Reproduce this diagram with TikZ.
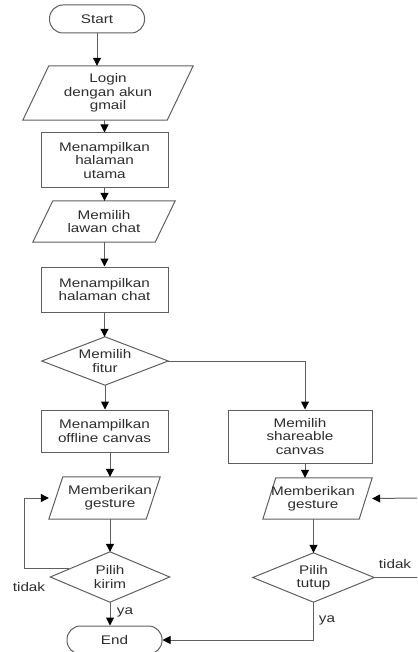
\documentclass[tikz,border=0pt]{standalone}
\usepackage{fontspec}
\setmainfont[FakeStretch=1.22]{Liberation Sans}
\usetikzlibrary{arrows.meta,calc}
\definecolor{linec}{RGB}{95,95,95}
\definecolor{txtc}{RGB}{45,45,45}
\newcommand\parash[2]{\draw[ln] ($(#1.north west)+(#2,0)$) -- (#1.north east) -- ($(#1.south east)-(#2,0)$) -- (#1.south west) -- cycle;}
\newcommand\diash[1]{\draw[ln] (#1.north) -- (#1.east) -- (#1.south) -- (#1.west) -- cycle;}
\begin{document}
\begin{tikzpicture}[x=1pt,y=-1pt,
  base/.style={align=center, inner sep=0pt, text=txtc, font=\fontsize{12.5}{13.3}\selectfont},
  proc/.style={base, draw=linec, line width=1pt, rectangle},
  term/.style={base, draw=linec, line width=1pt, rounded corners=13.5pt, minimum width=95pt, minimum height=28pt},
  shp/.style={base, rectangle},
  ln/.style={draw=linec, line width=1pt},
  flow/.style={draw=linec, line width=1pt, -{Triangle[length=8pt,width=8pt,fill=black,color=black]}},
  lab/.style={base}
]
\useasboundingbox (0,0) rectangle (417,652);

% left column
\node[term] (start) at (97,19) {Start};
\node[shp, minimum width=170pt, minimum height=54pt] (login) at (108,93) {Login\\dengan akun\\gmail};
\parash{login}{26}
\node[proc, minimum width=127pt, minimum height=55pt] (util) at (104.5,160.5) {Menampilkan\\halaman\\utama};
\node[shp, minimum width=142pt, minimum height=41pt] (lawan) at (104,221.5) {Memilih\\lawan chat};
\parash{lawan}{20}
\node[proc, minimum width=127pt, minimum height=45pt] (chat) at (104.5,289.5) {Menampilkan\\halaman chat};
\node[shp, minimum width=126pt, minimum height=48pt] (fitur) at (105,361) {Memilih\\fitur};
\diash{fitur}
\node[proc, minimum width=127pt, minimum height=42pt] (offline) at (104.5,431) {Menampilkan\\offline canvas};
\node[shp, minimum width=111pt, minimum height=42pt] (g1) at (104.5,498) {};
\parash{g1}{14}
\node[base] (g1t) at (110,498) {Memberikan\\gesture};
\node[shp, minimum width=119pt, minimum height=50pt] (kirim) at (110,577) {Pilih\\kirim};
\diash{kirim}
\node[term] (end) at (114.5,640) {End};

% right column
\node[proc, minimum width=144pt, minimum height=53pt] (share) at (300,436.5) {Memilih\\shareable\\canvas};
\node[shp, minimum width=109pt, minimum height=41pt] (g2) at (317.5,498.5) {};
\parash{g2}{13}
\node[base] (g2t) at (313,498.5) {Memberikan\\gesture};
\node[shp, minimum width=121pt, minimum height=49pt] (tutup) at (313.5,577.5) {Pilih\\tutup};
\diash{tutup}

% free ends / helper coordinates
\coordinate (a1) at (110,452);
\coordinate (a2) at (305,463);
\coordinate (fx) at (305,0);
\coordinate (rin) at (417,498);
\coordinate (rout) at (417,577.5);
\coordinate (kl) at ($(kirim.west)!0.32!(kirim.north)$);

% connectors
\draw[flow] (start.south) -- (start.south |- login.north);
\draw[flow] (util.north |- login.south) -- (util.north);
\draw[flow] (util.south) -- (util.south |- lawan.north);
\draw[flow] (chat.north |- lawan.south) -- (chat.north);
\draw[flow] (chat.south) -- (chat.south |- fitur.north);
\draw[flow] (fitur.east) -- (fitur.east -| fx) -- (fx |- share.north);
\draw[flow] (fitur.south) -- (fitur.south |- offline.north);
\draw[flow] (a1) -- (a1 |- g1.north);
\draw[flow] (kirim.north |- g1.south) -- (kirim.north);
\draw[flow] (kl) -- ++(-45,0) |- (g1.west);
\draw[flow] (kirim.south) -- (kirim.south |- end.north);
\draw[flow] (a2) -- (a2 |- g2.north);
\draw[flow] (tutup.north |- g2.south) -- (tutup.north);
\draw[ln] (tutup.east) -- (rout);
\draw[flow] (rin) -- (g2.east);
\draw[flow] (tutup.south) |- (end.east);

% labels
\node[lab] (t1) at (29,587) {tidak};
\node[lab] (y1) at (125,612) {ya};
\node[lab] (t2) at (395,564) {tidak};
\node[lab] (y2) at (327,620) {ya};
\end{tikzpicture}
\end{document}
